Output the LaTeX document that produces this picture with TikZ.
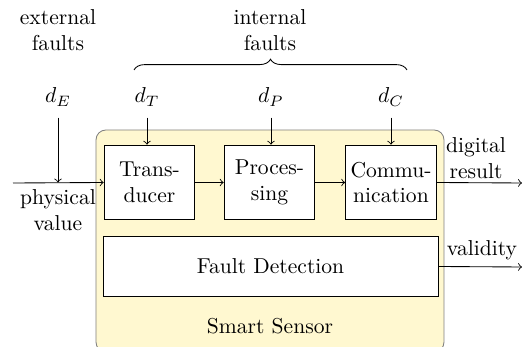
\documentclass[tikz,border=0pt]{standalone}
\usetikzlibrary{decorations.pathreplacing}
\definecolor{sensoryellow}{RGB}{255,248,208}
\tikzset{
  block/.style={
    draw=black,
    fill=white,
    align=center,
    minimum width=1.48cm,
    minimum height=1.22cm,
    inner sep=1pt
  },
  sensor/.style={
    draw=black!50,
    fill=sensoryellow,
    rounded corners=0.16cm
  },
  label/.style={align=center, inner sep=1pt},
  flow/.style={->, >=to}
}

\begin{document}
\begin{tikzpicture}[x=0.0163cm, y=-0.0163cm, font=\fontsize{10}{12}\selectfont]
  \useasboundingbox (0,0) rectangle (525,347);
  % smart sensor housing
  \draw[sensor] (96,130) rectangle (444,352);
  \node (smart) at (270,326) {Smart Sensor};

  % processing chain
  \node[block] (trans) at (149.5,182.5) {Trans-\\ducer};
  \node[block] (proc) at (269.5,182.5) {Proces-\\sing};
  \node[block] (comm) at (391,182.5) {Commu-\\nication};
  \node[block, minimum width=5.46cm, minimum height=0.99cm] (fault) at (270.5,266.5) {Fault Detection};

  % fault sources
  \node (dE) at (58,97) {$d_E$};
  \node (dT) at (147,97) {$d_T$};
  \node (dP) at (271,97) {$d_P$};
  \node (dC) at (391,97) {$d_C$};
  \node[label] (ext) at (58,30) {external\\faults};
  \node[label] (int) at (270,30) {internal\\faults};
  \draw[decorate, decoration={brace, amplitude=5pt}] (134,70) -- (407,70);

  % inputs and outputs
  \coordinate (in) at (13,183);
  \coordinate (outres) at (522,183);
  \coordinate (outval) at (522,267);
  \draw[flow] (in) -- (trans.west);
  \draw[flow] (dE.south) ++(0,4) -- (dE |- trans.west);
  \draw[flow] (dT.south) ++(0,4) -- (dT |- trans.north);
  \draw[flow] (dP.south) ++(0,4) -- (dP |- proc.north);
  \draw[flow] (dC.south) ++(0,4) -- (dC |- comm.north);
  \draw[flow] (trans) -- (proc);
  \draw[flow] (proc) -- (comm);
  \draw[flow] (comm.east) -- (outres);
  \draw[flow] (fault.east) -- (outval);
  \node[label] (phys) at (58,210) {physical\\value};
  \node[label] (res) at (476,158) {digital\\result};
  \node[label] (valid) at (482,250) {validity};
\end{tikzpicture}
\end{document}
